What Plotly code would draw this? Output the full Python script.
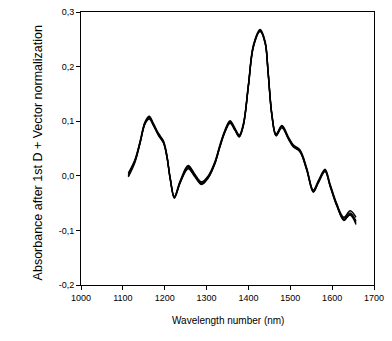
import plotly.graph_objects as go

wavelength = [1113, 1129, 1141, 1153, 1163, 1173, 1185, 1197, 1205, 1213, 1223, 1237,
              1256, 1272, 1288, 1304, 1320, 1332, 1344, 1356, 1368, 1378, 1388, 1400,
              1412, 1428, 1440, 1447, 1456, 1466, 1480, 1495, 1507, 1523, 1539, 1555,
              1567, 1583, 1595, 1611, 1628, 1643, 1657]

spec_a = [0.002, 0.028, 0.061, 0.097, 0.107, 0.094, 0.076, 0.062, 0.037, -0.005, -0.040, -0.011,
          0.017, 0.001, -0.013, -0.002, 0.024, 0.055, 0.082, 0.099, 0.085, 0.073, 0.094, 0.166,
          0.238, 0.266, 0.244, 0.190, 0.112, 0.075, 0.091, 0.070, 0.055, 0.046, 0.013, -0.028,
          -0.011, 0.010, -0.017, -0.053, -0.078, -0.068, -0.083]
spec_b = [-0.002, 0.025, 0.059, 0.095, 0.104, 0.092, 0.074, 0.060, 0.035, -0.006, -0.041, -0.013,
          0.013, -0.002, -0.016, -0.004, 0.022, 0.053, 0.080, 0.096, 0.083, 0.071, 0.092, 0.164,
          0.236, 0.264, 0.242, 0.188, 0.110, 0.073, 0.088, 0.068, 0.053, 0.044, 0.011, -0.030,
          -0.013, 0.008, -0.019, -0.055, -0.080, -0.072, -0.089]
spec_c = [0.005, 0.030, 0.063, 0.099, 0.109, 0.096, 0.078, 0.064, 0.039, -0.003, -0.038, -0.009,
          0.019, 0.003, -0.011, 0.000, 0.026, 0.057, 0.084, 0.101, 0.087, 0.075, 0.096, 0.168,
          0.240, 0.268, 0.246, 0.192, 0.114, 0.077, 0.092, 0.072, 0.057, 0.048, 0.015, -0.026,
          -0.009, 0.012, -0.015, -0.051, -0.076, -0.064, -0.076]
spec_d = [0.000, 0.027, 0.060, 0.096, 0.106, 0.093, 0.075, 0.061, 0.036, -0.004, -0.039, -0.012,
          0.015, 0.000, -0.014, -0.003, 0.023, 0.054, 0.081, 0.098, 0.084, 0.072, 0.093, 0.165,
          0.237, 0.265, 0.243, 0.189, 0.111, 0.074, 0.090, 0.069, 0.054, 0.045, 0.012, -0.029,
          -0.012, 0.009, -0.018, -0.054, -0.082, -0.070, -0.086]

x_ticks = [1000, 1100, 1200, 1300, 1400, 1500, 1600, 1700]
y_ticks = [-0.2, -0.1, 0.0, 0.1, 0.2, 0.3]
y_tick_labels = ["-0,2", "-0,1", "0,0", "0,1", "0,2", "0,3"]

fig = go.Figure()
for s in [spec_a, spec_b, spec_c, spec_d]:
    fig.add_trace(go.Scatter(x=wavelength, y=s, mode="lines",
                             line=dict(color="black", width=1.4, shape="spline", smoothing=1.0),
                             showlegend=False, hoverinfo="skip"))

font = "Liberation Sans, Arial, sans-serif"
fig.update_layout(
    width=392, height=341,
    margin=dict(l=81, r=18, t=7, b=56),
    paper_bgcolor="white", plot_bgcolor="white",
    font=dict(family=font, size=9, color="black"),
    xaxis=dict(range=[1000, 1700], tickvals=x_ticks, ticks="outside", ticklen=4,
               tickcolor="black", showline=True, linecolor="black", linewidth=1,
               mirror=True, showgrid=False, zeroline=False, tickfont=dict(size=9)),
    yaxis=dict(range=[-0.2, 0.3], tickvals=y_ticks, ticktext=y_tick_labels, ticks="outside",
               ticklen=4, tickcolor="black", showline=True, linecolor="black", linewidth=1,
               mirror=True, showgrid=False, zeroline=False, tickfont=dict(size=9)),
    annotations=[
        dict(text="Wavelength number (nm)", xref="paper", yref="paper", x=0.5, y=0,
             yshift=-35, showarrow=False, font=dict(size=10), yanchor="middle"),
        dict(text="Absorbance after 1st D + Vector normalization", xref="paper", yref="paper",
             x=0, y=0.482, xshift=-43, textangle=-90, showarrow=False, font=dict(size=12.5),
             xanchor="center"),
    ],
)
fig.write_html("out.html")
